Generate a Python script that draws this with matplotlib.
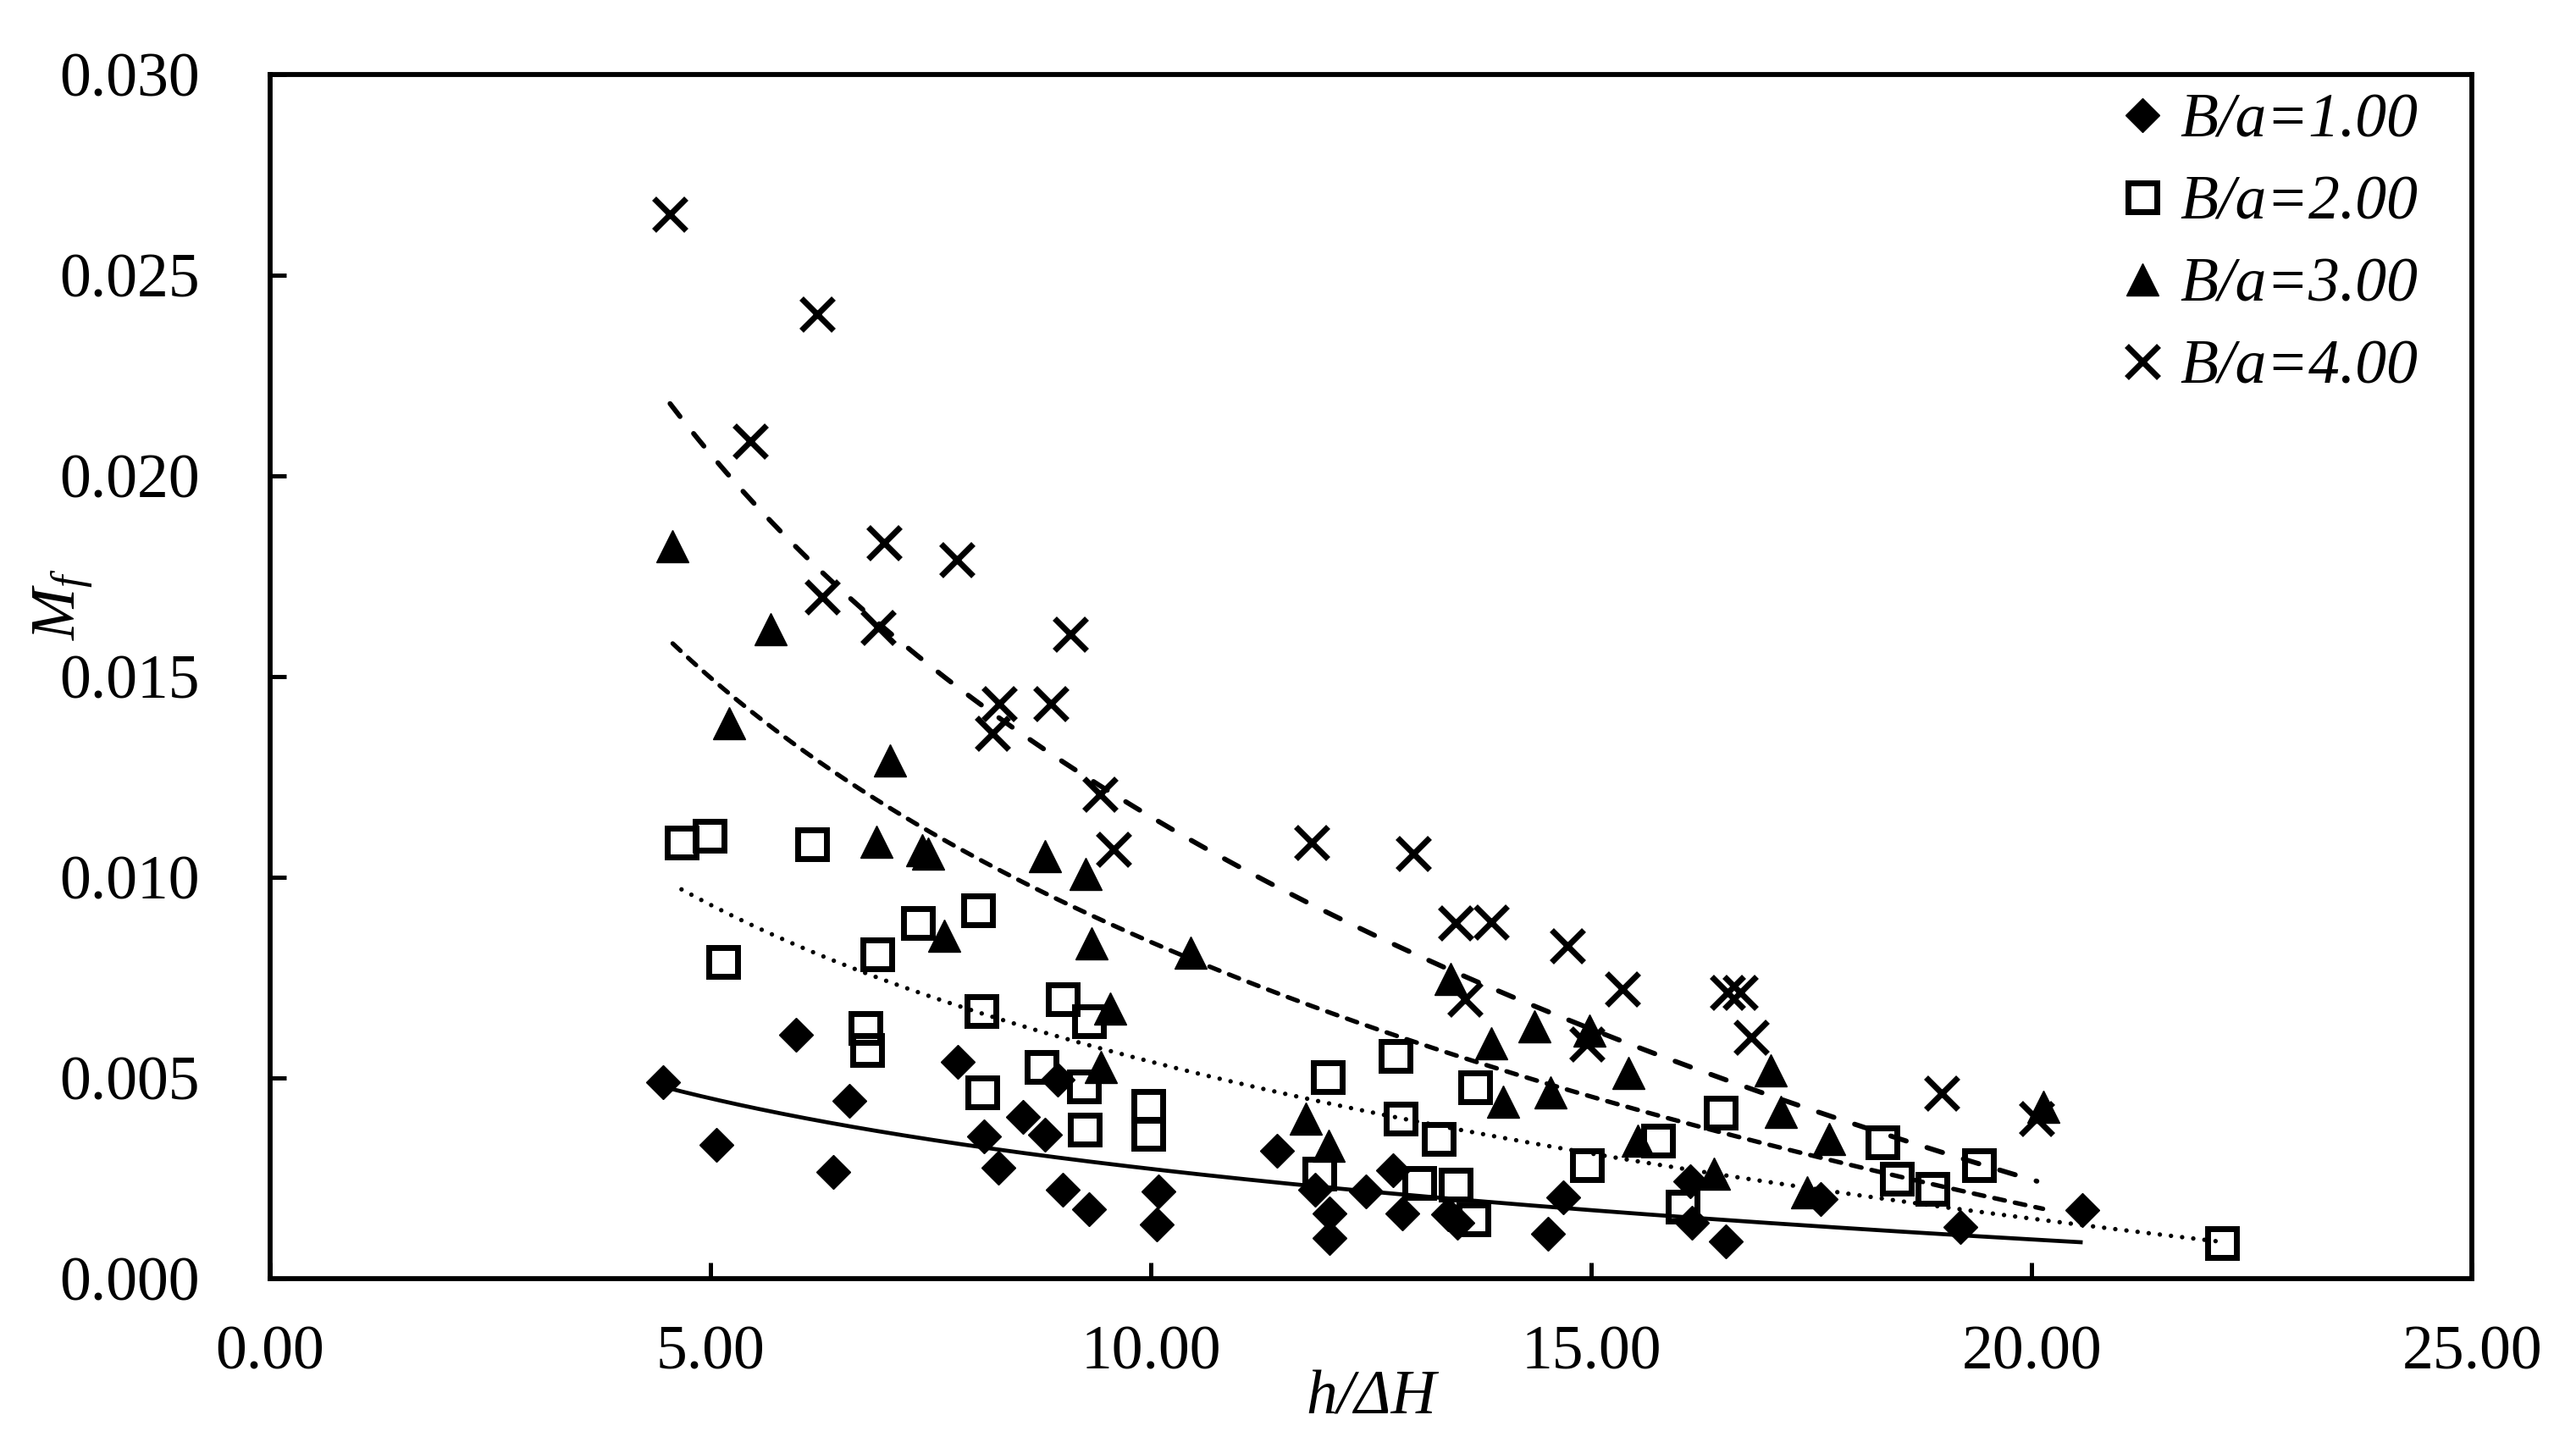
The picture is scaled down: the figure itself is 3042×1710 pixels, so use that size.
import numpy as np
import matplotlib.pyplot as plt
from matplotlib.ticker import FormatStrFormatter

plt.rcParams['font.family'] = 'Liberation Serif'
plt.rcParams['mathtext.fontset'] = 'custom'
plt.rcParams['mathtext.rm'] = 'Liberation Serif'
plt.rcParams['mathtext.it'] = 'Liberation Serif:italic'

# B/a = 1.00
x1 = [4.46, 5.07, 5.97, 6.39, 6.58, 7.81, 8.10, 8.27, 8.55, 8.80, 8.94, 9.00, 9.30,
      10.09, 10.07, 11.43, 11.86, 12.03, 12.03, 12.44, 12.75, 12.85, 13.37, 13.48,
      14.51, 14.68, 16.12, 16.14, 16.53, 17.60, 19.19, 20.58]
y1 = [0.00489, 0.00333, 0.00607, 0.00266, 0.00443, 0.00540, 0.00354, 0.00276, 0.00403,
      0.00358, 0.00495, 0.00221, 0.00173, 0.00217, 0.00135, 0.00318, 0.00221, 0.00162,
      0.00102, 0.00217, 0.00270, 0.00162, 0.00160, 0.00139, 0.00112, 0.00202, 0.00242,
      0.00139, 0.00093, 0.00198, 0.00129, 0.00171]

# B/a = 2.00
x2 = [4.67, 4.99, 5.14, 6.15, 6.76, 6.78, 6.89, 7.35, 8.04, 8.08, 8.09, 8.76, 9.00,
      9.24, 9.25, 9.30, 9.97, 9.97, 11.91, 12.01, 12.78, 12.84, 13.05, 13.27, 13.46,
      13.66, 13.68, 14.95, 15.76, 16.04, 16.47, 18.31, 18.47, 18.87, 19.40, 22.16]
y2 = [0.01086, 0.01104, 0.00788, 0.01083, 0.00624, 0.00570, 0.00807, 0.00885, 0.00918,
      0.00667, 0.00464, 0.00527, 0.00696, 0.00478, 0.00371, 0.00641, 0.00431, 0.00360,
      0.00262, 0.00501, 0.00554, 0.00399, 0.00239, 0.00349, 0.00234, 0.00147, 0.00476,
      0.00282, 0.00344, 0.00179, 0.00413, 0.00339, 0.00249, 0.00223, 0.00282, 0.00088]

# B/a = 3.00
x3 = [4.57, 5.21, 5.68, 6.88, 7.04, 7.40, 7.47, 7.65, 8.80, 9.26, 9.33, 9.43, 9.54,
      10.45, 11.76, 12.02, 13.40, 13.86, 14.00, 14.35, 14.54, 14.98, 15.42, 15.53,
      16.39, 17.04, 17.15, 17.45, 17.70, 20.13]
y3 = [0.01825, 0.01383, 0.01619, 0.01089, 0.01292, 0.01068, 0.01058, 0.00854, 0.01052,
      0.01009, 0.00835, 0.00527, 0.00673, 0.00812, 0.00399, 0.00331, 0.00746, 0.00586,
      0.00440, 0.00628, 0.00463, 0.00618, 0.00513, 0.00344, 0.00262, 0.00518, 0.00415,
      0.00215, 0.00349, 0.00428]

# B/a = 4.00
x4 = [4.54, 5.45, 6.21, 6.27, 6.90, 6.97, 7.80, 8.20, 8.28, 8.86, 9.09, 9.42, 9.58,
      11.83, 12.98, 13.46, 13.57, 13.86, 14.73, 14.95, 15.35, 16.55, 16.69, 16.82,
      18.98, 20.06]
y4 = [0.02653, 0.02087, 0.02404, 0.01698, 0.01623, 0.01833, 0.01791, 0.01359, 0.01432,
      0.01432, 0.01605, 0.01207, 0.01070, 0.01087, 0.01060, 0.00887, 0.00696, 0.00889,
      0.00828, 0.00585, 0.00721, 0.00714, 0.00714, 0.00602, 0.00461, 0.00399]

labels = ['B/a=1.00', 'B/a=2.00', 'B/a=3.00', 'B/a=4.00']

# log trend lines y = a + b*ln(x), coefficients
trend_a = [0.00857, 0.01839, 0.03026, 0.04153]
trend_b = [-0.002535, -0.00564, -0.00950, -0.01304]

fig = plt.figure(figsize=(15.21, 8.55), dpi=200)
ax = fig.add_axes([0.1049, 0.1170, 0.8547, 0.8315])

ax.plot(x1, y1, linestyle='none', marker='D', ms=10, mfc='black', mec='black', mew=0.5, label=labels[0])
ax.plot(x2, y2, linestyle='none', marker='s', ms=12, mfc='none', mec='black', mew=2.5, label=labels[1])
ax.plot(x3, y3, linestyle='none', marker='^', ms=14, mfc='black', mec='black', mew=0.5, label=labels[2])
ax.plot(x4, y4, linestyle='none', marker='x', ms=14, mec='black', mew=2.5, label=labels[3])

styles = [dict(lw=1.7, linestyle='-', solid_capstyle='butt'),
          dict(lw=1.9, dashes=[0.01, 2.5], dash_capstyle='round'),
          dict(lw=1.9, dashes=[2.4, 2.3], dash_capstyle='round'),
          dict(lw=2.1, dashes=[3.3, 4.4], dash_capstyle='round')]
for xs_data, a, b, st in zip([x1, x2, x3, x4], trend_a, trend_b, styles):
    xs = np.linspace(min(xs_data), max(xs_data), 300)
    ax.plot(xs, a + b * np.log(xs), color='black', **st)

ax.set_xlim(0, 25)
ax.set_ylim(0, 0.030)
ax.set_xticks(np.arange(0, 25.1, 5))
ax.set_yticks(np.arange(0, 0.0301, 0.005))
ax.xaxis.set_major_formatter(FormatStrFormatter('%.2f'))
ax.yaxis.set_major_formatter(FormatStrFormatter('%.3f'))
ax.tick_params(axis='both', direction='in', length=7, width=1.8, labelsize=26.5)
ax.tick_params(axis='x', pad=20)
ax.tick_params(axis='y', pad=30)
for sp in ax.spines.values():
    sp.set_linewidth(2.1)

ax.set_xlabel('h/ΔH', fontsize=26.5, fontstyle='italic')
ax.xaxis.set_label_coords(0.5, -0.076)
ax.set_ylabel('$M_f$', fontsize=26.5)
ax.yaxis.set_label_coords(-0.08, 0.56)

ax.legend(loc='upper right', bbox_to_anchor=(0.9838, 1.0), frameon=False, numpoints=1,
          handlelength=0.8, handletextpad=0.2, labelspacing=0.4, borderaxespad=0,
          borderpad=0.3, prop={'family': 'Liberation Serif', 'style': 'italic', 'size': 26.5})

fig.savefig('out.png', dpi=200)
